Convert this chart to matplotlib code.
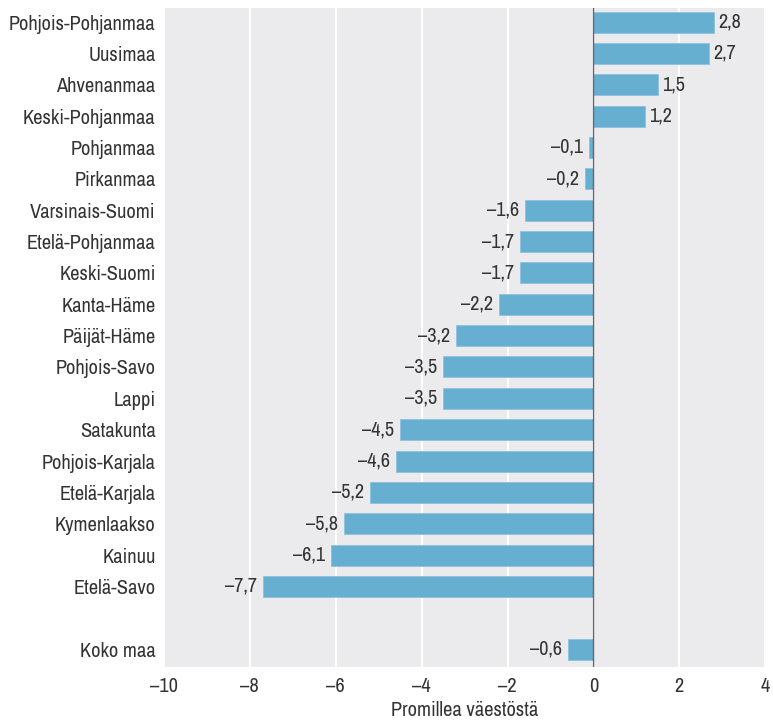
import matplotlib as mpl
mpl.use('Agg')
import matplotlib.pyplot as plt
import numpy as np

regions = ["Pohjois-Pohjanmaa", "Uusimaa", "Ahvenanmaa", "Keski-Pohjanmaa",
           "Pohjanmaa", "Pirkanmaa", "Varsinais-Suomi", "Etelä-Pohjanmaa",
           "Keski-Suomi", "Kanta-Häme", "Päijät-Häme", "Pohjois-Savo", "Lappi",
           "Satakunta", "Pohjois-Karjala", "Etelä-Karjala", "Kymenlaakso",
           "Kainuu", "Etelä-Savo"]
values = [2.8, 2.7, 1.5, 1.2, -0.1, -0.2, -1.6, -1.7, -1.7, -2.2, -3.2,
          -3.5, -3.5, -4.5, -4.6, -5.2, -5.8, -6.1, -7.7]
total_label = "Koko maa"
total_value = -0.6
xticks = [-10, -8, -6, -4, -2, 0, 2, 4]

plt.rcParams['font.family'] = ['Archivo Narrow', 'DejaVu Sans']

labels = regions + [total_label]
vals = values + [total_value]
ypos = list(range(len(regions))) + [len(regions) + 1]

fig = plt.figure(figsize=(7.73, 7.25), dpi=100)
ax = fig.add_axes([0.212, 0.08, 0.778, 0.909])
ax.set_facecolor('#ebebed')
for s in ax.spines.values():
    s.set_visible(False)

for t in xticks:
    ax.axvline(t, color='white', lw=1.5, zorder=1)

ax.barh(ypos, vals, height=0.67, color='#67afd1', edgecolor='#8cc3de',
        lw=0.6, zorder=2)
ax.axvline(0, color='#666666', lw=1.0, zorder=3)

def fmt(v):
    s = ('%.1f' % abs(v)).replace('.', ',')
    return ('–' + s) if v < 0 else s

for y, v in zip(ypos, vals):
    if v >= 0:
        ax.text(v + 0.1, y, fmt(v), va='center', ha='left', fontsize=14.5,
                color='#333333')
    else:
        ax.text(v - 0.14, y, fmt(v), va='center', ha='right', fontsize=14.5,
                color='#333333')

ax.set_yticks(ypos)
ax.set_yticklabels(labels, fontsize=14.7, color='#333333')
ax.set_ylim(len(regions) + 1.57, -0.45)
ax.set_xlim(-10, 4)
ax.set_xticks(xticks)
ax.set_xticklabels([fmt(t).replace(',0', '') for t in xticks], fontsize=14.7,
                   color='#333333')
ax.tick_params(axis='both', length=0)
ax.tick_params(axis='y', pad=6)
ax.tick_params(axis='x', pad=7)
ax.set_xlabel("Promillea väestöstä", fontsize=14.7, color='#333333', labelpad=4)

plt.savefig('out.png', dpi=100)
